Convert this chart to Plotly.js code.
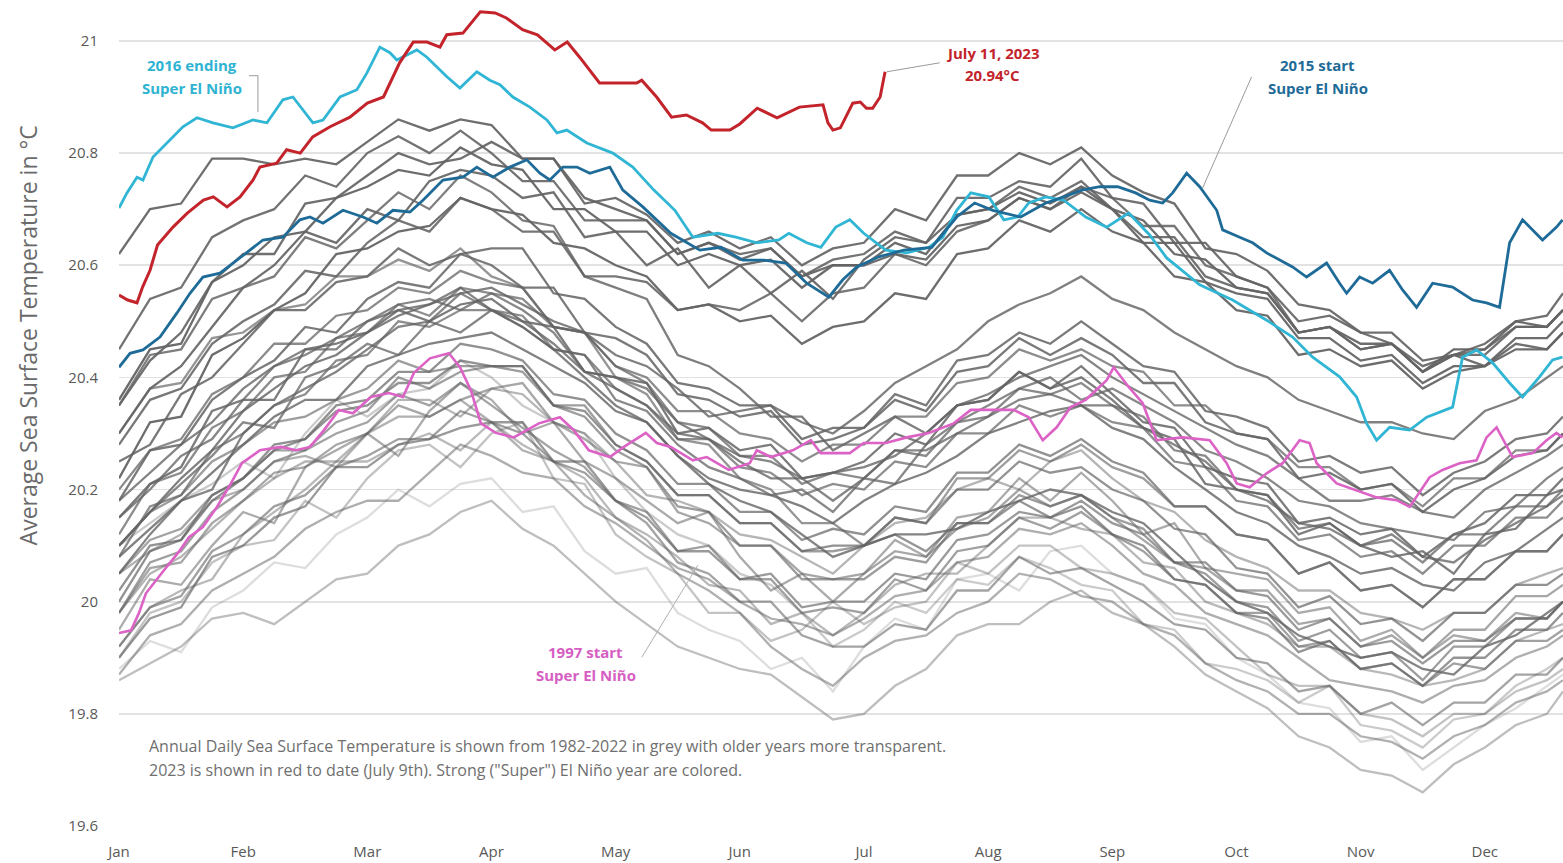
<!DOCTYPE html>
<html>
<head>
<meta charset="utf-8">
<script src="https://cdn.plot.ly/plotly-3.0.1.min.js"></script>
<style>html,body{margin:0;padding:0;background:#fff;}#chart{width:1563px;height:863px;}</style>
</head>
<body>
<div id="chart"></div>
<script>
// ---------- DATA ----------
const monthLabels = ['Jan','Feb','Mar','Apr','May','Jun','Jul','Aug','Sep','Oct','Nov','Dec'];
const monthTicks = [0,1,2,3,4,5,6,7,8,9,10,11];
const yTickVals = [19.6,19.8,20.0,20.2,20.4,20.6,20.8,21.0];
const yTickText = ['19.6','19.8','20','20.2','20.4','20.6','20.8','21'];

// x in months since Jan 1; grey years read about once a week
const greyX = [0,0.25,0.5,0.75, 1,1.25,1.5,1.75, 2,2.25,2.5,2.75, 3,3.25,3.5,3.75, 4,4.25,4.5,4.75, 5,5.25,5.5,5.75,
               6,6.25,6.5,6.75, 7,7.25,7.5,7.75, 8,8.25,8.5,8.75, 9,9.25,9.5,9.75, 10,10.25,10.5,10.75, 11,11.25,11.5,11.63];

const y1982 = [19.88,19.93,19.91,19.99, 20.02,20.07,20.06,20.12, 20.15,20.20,20.17,20.21, 20.22,20.16,20.17,20.09, 20.05,20.06,19.98,19.95, 19.93,19.88,19.90,19.84, 19.92,19.97,19.95,20.04, 20.05,20.02,20.09,20.10, 20.05,20.03,19.97,19.96, 19.90,19.87,19.82,19.81, 19.75,19.76,19.70,19.74, 19.78,19.81,19.85,19.87];
const y1983 = [20.10,20.14,20.18,20.21, 20.25,20.22,20.30,20.36, 20.33,20.37,20.38,20.43, 20.40,20.35,20.32,20.30, 20.22,20.16,20.12,20.10, 20.05,20.03,19.98,19.92, 19.95,20.00,19.98,20.04, 20.03,20.08,20.06,20.03, 20.02,19.96,19.95,19.89, 19.88,19.86,19.82,19.85, 19.78,19.77,19.74,19.79, 19.80,19.85,19.88,19.90];
const y1984 = [19.90,19.98,20.00,20.07, 20.10,20.11,20.18,20.15, 20.22,20.27,20.28,20.24, 20.30,20.32,20.22,20.21, 20.12,20.08,20.05,19.98, 19.98,19.93,19.95,20.00, 19.96,19.99,20.00,20.07, 20.05,20.10,20.10,20.06, 20.05,20.03,19.98,19.97, 19.92,19.87,19.85,19.85, 19.80,19.79,19.76,19.80, 19.80,19.84,19.86,19.88];
const y1985 = [19.86,19.89,19.92,19.97, 19.98,19.96,20.00,20.04, 20.05,20.10,20.12,20.16, 20.18,20.13,20.10,20.05, 20.00,19.96,19.92,19.90, 19.88,19.87,19.83,19.79, 19.80,19.85,19.88,19.94, 19.96,19.96,20.00,20.02, 19.98,19.96,19.92,19.87, 19.84,19.81,19.76,19.74, 19.70,19.69,19.66,19.71, 19.74,19.78,19.80,19.84];
const y1986 = [19.92,19.99,20.02,20.04, 20.12,20.16,20.20,20.25, 20.25,20.28,20.30,20.27, 20.32,20.28,20.25,20.22, 20.15,20.12,20.08,20.03, 20.02,19.96,19.98,19.94, 19.98,20.03,20.05,20.05, 20.10,20.15,20.15,20.13, 20.12,20.07,20.06,20.00, 19.98,19.96,19.92,19.92, 19.88,19.87,19.85,19.86, 19.88,19.93,19.95,19.96];
const y1987 = [19.98,20.05,20.08,20.13, 20.18,20.22,20.25,20.25, 20.30,20.36,20.36,20.33, 20.38,20.37,20.32,20.30, 20.25,20.19,20.18,20.16, 20.12,20.11,20.08,20.05, 20.10,20.14,20.15,20.20, 20.22,20.20,20.25,20.27, 20.22,20.18,20.16,20.11, 20.08,20.06,20.02,20.02, 19.98,19.97,19.95,19.98, 19.98,20.03,20.05,20.06];
const y1988 = [20.05,20.09,20.12,20.18, 20.20,20.25,20.26,20.24, 20.30,20.33,20.33,20.36, 20.32,20.27,20.25,20.19, 20.15,20.11,20.05,20.02, 19.98,19.92,19.88,19.85, 19.90,19.93,19.94,19.98, 20.00,20.05,20.04,20.01, 20.00,19.96,19.94,19.89, 19.86,19.84,19.80,19.80, 19.76,19.75,19.72,19.76, 19.78,19.82,19.84,19.86];
const y1989 = [19.87,19.94,19.96,20.02, 20.05,20.08,20.13,20.16, 20.18,20.18,20.23,20.28, 20.26,20.23,20.22,20.17, 20.14,20.10,20.06,20.04, 20.00,19.97,19.96,19.94, 19.97,20.01,20.02,20.07, 20.08,20.13,20.12,20.14, 20.10,20.05,20.03,19.98, 19.96,19.94,19.90,19.86, 19.85,19.84,19.82,19.85, 19.86,19.90,19.92,19.94];
const y1990 = [19.95,20.04,20.03,20.10, 20.16,20.14,20.24,20.27, 20.30,20.26,20.34,20.39, 20.36,20.30,20.32,20.25, 20.22,20.18,20.14,20.16, 20.08,20.02,20.05,20.00, 20.05,20.11,20.08,20.15, 20.16,20.22,20.18,20.23, 20.18,20.12,20.14,20.06, 20.05,20.04,19.98,19.99, 19.93,19.95,19.90,19.94, 19.93,19.98,19.97,20.00];
const y1991 = [19.98,20.06,20.07,20.14, 20.18,20.23,20.24,20.28, 20.30,20.35,20.33,20.36, 20.38,20.39,20.32,20.29, 20.25,20.24,20.16,20.14, 20.10,20.10,20.05,20.04, 20.05,20.09,20.08,20.13, 20.15,20.20,20.17,20.19, 20.15,20.11,20.07,20.06, 20.02,20.02,19.96,19.97, 19.92,19.94,19.90,19.95, 19.95,20.01,20.01,20.03];
const y1992 = [20.05,20.11,20.13,20.19, 20.22,20.27,20.27,20.30, 20.32,20.37,20.35,20.39, 20.35,20.31,20.27,20.24, 20.18,20.14,20.07,20.05, 20.00,20.00,19.94,19.92, 19.92,19.96,19.95,20.02, 20.02,20.08,20.05,20.06, 20.03,20.00,19.96,19.95, 19.90,19.89,19.84,19.85, 19.80,19.82,19.78,19.82, 19.82,19.87,19.87,19.90];
const y1993 = [19.92,19.99,20.01,20.09, 20.12,20.17,20.19,20.24, 20.26,20.29,20.29,20.34, 20.32,20.30,20.25,20.23, 20.18,20.16,20.09,20.10, 20.04,20.04,19.98,19.99, 19.98,20.04,20.02,20.09, 20.10,20.15,20.13,20.16, 20.12,20.09,20.04,20.03, 19.98,19.98,19.92,19.93, 19.88,19.89,19.85,19.89, 19.88,19.93,19.93,19.95];
const y1994 = [19.98,20.07,20.09,20.16, 20.20,20.25,20.27,20.32, 20.34,20.40,20.38,20.41, 20.42,20.42,20.35,20.35, 20.28,20.25,20.19,20.19, 20.14,20.14,20.09,20.09, 20.10,20.15,20.14,20.22, 20.22,20.27,20.25,20.28, 20.24,20.22,20.17,20.17, 20.12,20.11,20.05,20.07, 20.02,20.03,19.99,20.04, 20.04,20.09,20.09,20.12];
const y1995 = [20.10,20.16,20.19,20.25, 20.28,20.32,20.33,20.36, 20.38,20.43,20.41,20.42, 20.42,20.41,20.35,20.33, 20.27,20.24,20.17,20.16, 20.10,20.10,20.04,20.04, 20.04,20.08,20.07,20.14, 20.14,20.19,20.17,20.19, 20.15,20.13,20.07,20.05, 20.00,19.99,19.93,19.95, 19.90,19.91,19.86,19.92, 19.92,19.97,19.97,20.00];
const y1996 = [19.90,19.97,19.99,20.08, 20.10,20.15,20.17,20.24, 20.24,20.28,20.29,20.31, 20.32,20.32,20.25,20.25, 20.18,20.15,20.09,20.09, 20.04,20.05,19.99,20.00, 20.00,20.05,20.04,20.11, 20.12,20.16,20.15,20.18, 20.14,20.12,20.07,20.07, 20.02,20.01,19.95,19.97, 19.92,19.93,19.89,19.93, 19.93,19.97,19.97,20.00];
const y1998 = [20.30,20.38,20.39,20.47, 20.48,20.52,20.53,20.58, 20.58,20.61,20.59,20.63, 20.58,20.56,20.49,20.48, 20.40,20.37,20.29,20.28, 20.22,20.20,20.14,20.14, 20.10,20.12,20.09,20.14, 20.14,20.18,20.15,20.17, 20.12,20.10,20.04,20.03, 19.98,19.97,19.91,19.93, 19.88,19.89,19.85,19.90, 19.90,19.95,19.95,19.98];
const y1999 = [20.02,20.10,20.11,20.19, 20.22,20.27,20.29,20.34, 20.35,20.39,20.39,20.43, 20.42,20.42,20.35,20.34, 20.28,20.25,20.19,20.19, 20.14,20.14,20.09,20.10, 20.10,20.15,20.14,20.20, 20.20,20.25,20.23,20.24, 20.20,20.18,20.13,20.12, 20.06,20.05,19.99,20.01, 19.96,19.97,19.93,19.98, 19.98,20.03,20.03,20.05];
const y2000 = [20.00,20.09,20.11,20.18, 20.22,20.28,20.29,20.35, 20.36,20.41,20.41,20.46, 20.45,20.43,20.37,20.36, 20.30,20.27,20.21,20.21, 20.16,20.16,20.11,20.13, 20.12,20.17,20.16,20.23, 20.23,20.28,20.26,20.29, 20.25,20.23,20.17,20.17, 20.12,20.11,20.05,20.07, 20.02,20.03,19.99,20.04, 20.04,20.09,20.09,20.12];
const y2001 = [20.08,20.17,20.19,20.27, 20.30,20.35,20.37,20.43, 20.44,20.50,20.49,20.52, 20.52,20.51,20.45,20.44, 20.38,20.35,20.29,20.29, 20.24,20.23,20.19,20.21, 20.20,20.25,20.24,20.30, 20.30,20.35,20.33,20.35, 20.32,20.31,20.25,20.24, 20.18,20.17,20.11,20.12, 20.08,20.09,20.05,20.10, 20.10,20.15,20.15,20.18];
const y2002 = [20.12,20.21,20.23,20.31, 20.34,20.40,20.41,20.47, 20.48,20.53,20.51,20.56, 20.55,20.54,20.49,20.48, 20.42,20.40,20.34,20.34, 20.30,20.29,20.25,20.28, 20.28,20.33,20.33,20.39, 20.40,20.45,20.43,20.45, 20.42,20.41,20.35,20.35, 20.30,20.29,20.24,20.24, 20.20,20.21,20.17,20.22, 20.22,20.27,20.27,20.30];
const y2003 = [20.20,20.27,20.29,20.37, 20.40,20.46,20.46,20.51, 20.52,20.56,20.55,20.59, 20.57,20.56,20.49,20.48, 20.42,20.39,20.32,20.31, 20.26,20.26,20.21,20.23, 20.22,20.27,20.26,20.32, 20.33,20.38,20.37,20.39, 20.35,20.33,20.27,20.26, 20.20,20.19,20.13,20.14, 20.10,20.11,20.07,20.12, 20.12,20.17,20.17,20.20];
const y2004 = [20.10,20.16,20.21,20.26, 20.32,20.31,20.40,20.42, 20.46,20.44,20.50,20.55, 20.52,20.49,20.45,20.44, 20.36,20.34,20.28,20.24, 20.22,20.19,20.20,20.16, 20.22,20.21,20.28,20.32, 20.35,20.38,20.40,20.36, 20.38,20.35,20.32,20.27, 20.25,20.22,20.18,20.17, 20.14,20.13,20.12,20.11, 20.16,20.17,20.22,20.24];
const y2005 = [20.15,20.20,20.26,20.29, 20.36,20.42,20.44,20.47, 20.50,20.53,20.54,20.52, 20.55,20.52,20.48,20.41, 20.40,20.38,20.32,20.29, 20.26,20.25,20.22,20.18, 20.22,20.27,20.27,20.30, 20.33,20.36,20.37,20.35, 20.35,20.31,20.28,20.25, 20.20,20.18,20.14,20.13, 20.10,20.12,20.08,20.07, 20.11,20.14,20.17,20.19];
const y2006 = [20.05,20.12,20.18,20.20, 20.30,20.35,20.38,20.41, 20.45,20.49,20.50,20.48, 20.52,20.50,20.46,20.41, 20.38,20.35,20.30,20.29, 20.25,20.22,20.22,20.23, 20.24,20.26,20.30,20.35, 20.37,20.40,20.42,20.44, 20.40,20.37,20.34,20.31, 20.28,20.26,20.22,20.18, 20.18,20.19,20.16,20.15, 20.20,20.23,20.26,20.28];
const y2007 = [20.18,20.23,20.28,20.32, 20.38,20.42,20.45,20.45, 20.50,20.52,20.53,20.56, 20.52,20.49,20.45,20.40, 20.35,20.32,20.26,20.21, 20.18,20.16,20.12,20.08, 20.10,20.12,20.12,20.13, 20.16,20.18,20.20,20.19, 20.16,20.14,20.09,20.04, 20.00,19.98,19.94,19.92, 19.90,19.91,19.88,19.87, 19.92,19.94,19.98,20.00];
const y2008 = [20.08,20.13,20.18,20.23, 20.28,20.33,20.36,20.36, 20.42,20.44,20.46,20.47, 20.48,20.45,20.42,20.39, 20.34,20.32,20.26,20.22, 20.20,20.19,20.17,20.14, 20.18,20.21,20.23,20.26, 20.30,20.32,20.34,20.35, 20.31,20.29,20.24,20.20, 20.16,20.14,20.10,20.08, 20.05,20.06,20.03,20.02, 20.07,20.09,20.13,20.15];
const y2009 = [20.10,20.16,20.22,20.27, 20.34,20.38,20.42,20.44, 20.48,20.51,20.53,20.55, 20.56,20.53,20.50,20.48, 20.44,20.42,20.38,20.33, 20.34,20.35,20.32,20.30, 20.34,20.39,20.42,20.45, 20.50,20.53,20.55,20.58, 20.54,20.52,20.48,20.45, 20.42,20.40,20.36,20.34, 20.32,20.32,20.30,20.29, 20.34,20.36,20.40,20.42];
const y2010 = [20.35,20.44,20.45,20.54, 20.56,20.58,20.65,20.63, 20.68,20.73,20.70,20.76, 20.73,20.68,20.67,20.58, 20.56,20.54,20.44,20.42, 20.38,20.33,20.33,20.27, 20.30,20.33,20.30,20.35, 20.36,20.41,20.38,20.40, 20.36,20.31,20.29,20.21, 20.20,20.19,20.12,20.14, 20.10,20.08,20.09,20.05, 20.12,20.13,20.19,20.20];
const y2011 = [20.15,20.21,20.24,20.34, 20.36,20.36,20.45,20.46, 20.48,20.52,20.50,20.53, 20.54,20.50,20.49,20.41, 20.40,20.39,20.30,20.31, 20.27,20.28,20.22,20.23, 20.25,20.30,20.28,20.35, 20.36,20.41,20.38,20.42, 20.37,20.32,20.31,20.24, 20.22,20.21,20.14,20.15, 20.12,20.13,20.08,20.12, 20.14,20.19,20.19,20.22];
const y2012 = [20.18,20.27,20.28,20.36, 20.40,20.43,20.49,20.48, 20.54,20.57,20.56,20.62, 20.60,20.56,20.56,20.48, 20.47,20.44,20.37,20.36, 20.33,20.34,20.28,20.29, 20.31,20.37,20.35,20.43, 20.44,20.48,20.46,20.50, 20.46,20.42,20.41,20.34, 20.33,20.31,20.25,20.26, 20.23,20.24,20.19,20.23, 20.25,20.29,20.30,20.33];
const y2013 = [20.25,20.28,20.37,20.40, 20.46,20.52,20.52,20.57, 20.58,20.63,20.60,20.62, 20.63,20.63,20.55,20.54, 20.49,20.46,20.39,20.38, 20.35,20.35,20.29,20.31, 20.31,20.36,20.34,20.41, 20.42,20.47,20.44,20.47, 20.44,20.39,20.39,20.32, 20.30,20.29,20.22,20.23, 20.20,20.21,20.16,20.20, 20.22,20.26,20.27,20.30];
const y2014 = [20.28,20.36,20.38,20.46, 20.50,20.53,20.59,20.58, 20.64,20.68,20.66,20.72, 20.70,20.66,20.66,20.58, 20.58,20.57,20.52,20.53, 20.52,20.55,20.50,20.55, 20.56,20.62,20.60,20.66, 20.68,20.72,20.70,20.74, 20.72,20.67,20.67,20.60, 20.58,20.56,20.48,20.49, 20.45,20.46,20.41,20.44, 20.45,20.49,20.49,20.52];
const y2017 = [20.45,20.54,20.56,20.65, 20.68,20.70,20.76,20.74, 20.80,20.83,20.80,20.84, 20.80,20.75,20.75,20.68, 20.68,20.68,20.62,20.64, 20.62,20.63,20.58,20.61, 20.62,20.66,20.64,20.69, 20.70,20.74,20.72,20.75, 20.70,20.65,20.65,20.58, 20.56,20.55,20.48,20.49, 20.45,20.46,20.41,20.44, 20.44,20.49,20.49,20.52];
const y2018 = [20.30,20.38,20.42,20.49, 20.56,20.60,20.66,20.64, 20.70,20.68,20.75,20.77, 20.76,20.72,20.73,20.65, 20.66,20.60,20.63,20.56, 20.60,20.55,20.59,20.54, 20.61,20.65,20.64,20.72, 20.72,20.75,20.74,20.79, 20.72,20.71,20.64,20.64, 20.58,20.56,20.50,20.51, 20.48,20.46,20.42,20.44, 20.46,20.50,20.51,20.55];
const y2019 = [20.35,20.43,20.48,20.57, 20.62,20.62,20.71,20.72, 20.76,20.80,20.78,20.79, 20.82,20.79,20.79,20.71, 20.72,20.69,20.64,20.66, 20.63,20.65,20.60,20.63, 20.64,20.70,20.68,20.76, 20.76,20.80,20.78,20.81, 20.76,20.73,20.71,20.63, 20.62,20.59,20.53,20.52, 20.48,20.48,20.43,20.44, 20.42,20.46,20.45,20.48];
const y2020 = [20.62,20.70,20.71,20.79, 20.79,20.78,20.79,20.78, 20.82,20.86,20.84,20.86, 20.85,20.79,20.79,20.72, 20.70,20.68,20.62,20.64, 20.61,20.63,20.58,20.60, 20.60,20.62,20.61,20.67, 20.68,20.72,20.70,20.73, 20.70,20.64,20.64,20.57, 20.55,20.54,20.47,20.47, 20.43,20.44,20.39,20.42, 20.42,20.45,20.45,20.48];
const y2021 = [20.22,20.32,20.33,20.44, 20.47,20.52,20.55,20.62, 20.63,20.66,20.67,20.72, 20.70,20.69,20.64,20.63, 20.60,20.58,20.52,20.53, 20.50,20.51,20.46,20.49, 20.50,20.55,20.54,20.62, 20.63,20.68,20.66,20.70, 20.66,20.64,20.58,20.57, 20.52,20.51,20.44,20.45, 20.42,20.43,20.38,20.41, 20.42,20.47,20.47,20.50];
const y2022 = [20.36,20.45,20.46,20.57, 20.60,20.65,20.66,20.72, 20.74,20.77,20.76,20.81, 20.78,20.77,20.70,20.70, 20.66,20.66,20.60,20.62, 20.60,20.61,20.56,20.60, 20.60,20.64,20.62,20.69, 20.70,20.73,20.71,20.74, 20.70,20.68,20.62,20.61, 20.56,20.55,20.48,20.49, 20.46,20.46,20.41,20.45, 20.45,20.50,20.49,20.52];

const greyYears = [1982,1983,1984,1985,1986,1987,1988,1989,1990,1991,1992,1993,1994,1995,1996,1998,1999,2000,2001,2002,2003,2004,2005,2006,2007,2008,2009,2010,2011,2012,2013,2014,2017,2018,2019,2020,2021,2022];
const greySeries = [y1982,y1983,y1984,y1985,y1986,y1987,y1988,y1989,y1990,y1991,y1992,y1993,y1994,y1995,y1996,y1998,y1999,y2000,y2001,y2002,y2003,y2004,y2005,y2006,y2007,y2008,y2009,y2010,y2011,y2012,y2013,y2014,y2017,y2018,y2019,y2020,y2021,y2022];

// 1997 (start of Super El Niño)
const x1997 = [0,0.097,0.161,0.217,0.362,0.475,0.564,0.676,0.789,0.902,0.990,1.135,1.304,1.425,1.538,1.651,1.771,1.884,2.029,2.174,2.287,2.375,2.504,2.657,2.746,2.834,2.915,3.035,3.180,3.382,3.551,3.663,3.784,3.953,4.066,4.243,4.332,4.444,4.622,4.734,4.911,5.080,5.137,5.250,5.427,5.572,5.652,5.886,5.998,6.176,6.345,6.522,6.723,6.860,7.037,7.206,7.327,7.440,7.552,7.665,7.786,7.955,8.011,8.132,8.245,8.357,8.567,8.784,8.921,9.002,9.106,9.243,9.372,9.509,9.589,9.646,9.807,9.968,10.129,10.290,10.395,10.556,10.660,10.797,10.934,11.014,11.095,11.224,11.385,11.498,11.578,11.626];
const y1997 = [19.944,19.949,19.980,20.015,20.056,20.087,20.115,20.133,20.169,20.211,20.247,20.270,20.276,20.270,20.276,20.306,20.342,20.336,20.365,20.372,20.365,20.408,20.434,20.443,20.418,20.377,20.318,20.301,20.293,20.318,20.329,20.306,20.270,20.258,20.276,20.301,20.283,20.276,20.252,20.258,20.235,20.247,20.270,20.258,20.270,20.288,20.265,20.265,20.283,20.283,20.293,20.301,20.318,20.342,20.342,20.342,20.329,20.288,20.311,20.347,20.360,20.395,20.418,20.383,20.354,20.288,20.293,20.288,20.247,20.211,20.204,20.229,20.247,20.288,20.283,20.247,20.211,20.199,20.186,20.181,20.169,20.222,20.235,20.247,20.252,20.293,20.311,20.258,20.265,20.288,20.301,20.293];

// 2015 (start of Super El Niño)
const x2015 = [0,0.089,0.193,0.330,0.467,0.572,0.676,0.813,0.950,1.055,1.159,1.320,1.457,1.538,1.643,1.804,1.965,2.077,2.206,2.343,2.448,2.609,2.770,2.882,3.011,3.148,3.285,3.390,3.470,3.575,3.688,3.792,3.953,4.058,4.219,4.444,4.678,4.847,5.024,5.193,5.370,5.539,5.717,5.829,5.942,6.119,6.320,6.546,6.659,6.747,6.892,7.037,7.262,7.464,7.609,7.754,7.899,8.043,8.188,8.301,8.406,8.486,8.599,8.704,8.841,8.889,9.026,9.130,9.243,9.348,9.452,9.565,9.726,9.831,9.887,9.992,10.097,10.233,10.338,10.451,10.580,10.741,10.902,11.014,11.119,11.200,11.304,11.465,11.578,11.626];
const y2015 = [20.418,20.443,20.449,20.472,20.515,20.550,20.579,20.586,20.609,20.627,20.645,20.650,20.681,20.686,20.675,20.698,20.686,20.675,20.698,20.695,20.716,20.752,20.757,20.775,20.757,20.775,20.788,20.764,20.752,20.775,20.775,20.764,20.775,20.734,20.704,20.657,20.627,20.632,20.609,20.609,20.604,20.568,20.543,20.574,20.597,20.615,20.627,20.632,20.663,20.686,20.711,20.698,20.686,20.711,20.722,20.734,20.740,20.740,20.729,20.716,20.711,20.729,20.764,20.740,20.698,20.663,20.650,20.640,20.622,20.609,20.597,20.579,20.604,20.568,20.550,20.579,20.568,20.591,20.556,20.525,20.568,20.561,20.538,20.533,20.525,20.640,20.681,20.645,20.668,20.681];

// 2016 (end of Super El Niño)
const x2016 = [0,0.064,0.145,0.193,0.274,0.354,0.411,0.515,0.628,0.757,0.918,1.079,1.192,1.320,1.401,1.562,1.643,1.780,1.916,1.997,2.101,2.182,2.238,2.399,2.480,2.641,2.746,2.882,2.987,3.068,3.172,3.309,3.446,3.527,3.607,3.768,3.977,4.138,4.308,4.477,4.622,4.823,4.968,5.137,5.314,5.395,5.539,5.652,5.773,5.886,5.998,6.176,6.345,6.522,6.634,6.747,6.860,7.005,7.126,7.238,7.327,7.464,7.609,7.786,7.955,8.132,8.301,8.438,8.704,8.969,9.243,9.452,9.614,9.831,9.968,10.048,10.129,10.234,10.395,10.532,10.741,10.821,10.934,11.063,11.200,11.304,11.441,11.546,11.626];
const y2016 = [20.702,20.729,20.757,20.752,20.793,20.811,20.823,20.847,20.863,20.854,20.845,20.859,20.854,20.895,20.900,20.854,20.859,20.900,20.913,20.943,20.989,20.979,20.966,20.984,20.971,20.936,20.916,20.945,20.930,20.922,20.900,20.882,20.859,20.836,20.841,20.818,20.800,20.775,20.734,20.698,20.650,20.657,20.650,20.640,20.645,20.657,20.640,20.632,20.668,20.681,20.657,20.627,20.622,20.632,20.650,20.698,20.729,20.722,20.681,20.686,20.711,20.722,20.716,20.686,20.668,20.693,20.654,20.613,20.565,20.538,20.502,20.472,20.436,20.401,20.365,20.318,20.288,20.311,20.306,20.329,20.347,20.436,20.449,20.426,20.390,20.365,20.401,20.431,20.436];

// 2023 to date
const x2023 = [0,0.07,0.145,0.19,0.25,0.31,0.435,0.55,0.68,0.76,0.87,0.975,1.08,1.135,1.27,1.35,1.46,1.56,1.70,1.86,2.00,2.13,2.26,2.37,2.48,2.585,2.64,2.77,2.91,3.03,3.12,3.25,3.37,3.51,3.61,3.71,3.87,4.17,4.21,4.33,4.45,4.57,4.70,4.77,4.92,5.00,5.14,5.30,5.48,5.67,5.71,5.75,5.81,5.91,5.97,6.02,6.07,6.13,6.17];
const y2023 = [20.547,20.538,20.533,20.561,20.591,20.636,20.668,20.693,20.716,20.722,20.704,20.722,20.752,20.775,20.782,20.806,20.800,20.829,20.847,20.864,20.889,20.900,20.961,20.998,20.998,20.989,21.011,21.014,21.052,21.050,21.041,21.020,21.011,20.984,20.998,20.971,20.925,20.925,20.930,20.900,20.864,20.868,20.854,20.841,20.841,20.852,20.880,20.863,20.882,20.886,20.854,20.841,20.845,20.889,20.891,20.880,20.880,20.900,20.945];

// ---------- CHART ----------
const FONT = 'Open Sans, "Noto Sans", sans-serif';
const traces = [];
greySeries.forEach((ys, i) => {
  const t = (greyYears[i] - 1982) / 40;
  const a = 0.22 + 0.73 * Math.sqrt(t);
  traces.push({x: greyX, y: ys, type: 'scatter', mode: 'lines', name: String(greyYears[i]),
    line: {color: 'rgba(100,100,100,' + a.toFixed(3) + ')', width: 2.3}, hoverinfo: 'skip'});
});
traces.push({x: x1997, y: y1997, type: 'scatter', mode: 'lines', name: '1997', line: {color: '#dc62c6', width: 2.6}});
traces.push({x: x2016, y: y2016, type: 'scatter', mode: 'lines', name: '2016', line: {color: '#30b6d4', width: 2.8}});
traces.push({x: x2015, y: y2015, type: 'scatter', mode: 'lines', name: '2015', line: {color: '#1f6b98', width: 2.8}});
traces.push({x: x2023, y: y2023, type: 'scatter', mode: 'lines', name: '2023', line: {color: '#c3242c', width: 3}});

function lbl(x, y, text, color) {
  return {x: x, y: y, xref: 'x', yref: 'y', text: '<b>' + text + '</b>', showarrow: false,
    font: {family: FONT, size: 15, color: color}, xanchor: 'center', yanchor: 'middle'};
}
const annotations = [
  lbl(0.588, 20.957, '2016 ending', '#2fb3d2'),
  lbl(0.588, 20.916, 'Super El Niño', '#2fb3d2'),
  lbl(7.037, 20.979, 'July 11, 2023', '#c3242c'),
  lbl(7.037, 20.939, '20.94°C', '#c3242c'),
  lbl(9.654, 20.957, '2015 start', '#1f6b98'),
  lbl(9.654, 20.916, 'Super El Niño', '#1f6b98'),
  lbl(3.760, 19.910, '1997 start', '#d65ec2'),
  lbl(3.760, 19.869, 'Super El Niño', '#d65ec2'),
  {xref: 'paper', yref: 'paper', x: 0.0194, y: 0.097, xanchor: 'left', yanchor: 'middle', showarrow: false,
   text: 'Annual Daily Sea Surface Temperature is shown from 1982-2022 in grey with older years more transparent.',
   font: {family: FONT, size: 16, color: '#6f6f6f'}},
  {xref: 'paper', yref: 'paper', x: 0.0194, y: 0.068, xanchor: 'left', yanchor: 'middle', showarrow: false,
   text: '2023 is shown in red to date (July 9th). Strong ("Super") El Niño year are colored.',
   font: {family: FONT, size: 16, color: '#6f6f6f'}},
  {xref: 'paper', yref: 'paper', x: -0.063, y: 0.594, xanchor: 'center', yanchor: 'middle', showarrow: false,
   textangle: -90, text: 'Average Sea Surface Temperature in °C', font: {family: FONT, size: 23, color: '#6a6a6a'}}
];

const shapes = [
  {type: 'path', xref: 'x', yref: 'y', path: 'M 1.047 20.938 L 1.119 20.938 L 1.119 20.873', line: {color: '#9a9a9a', width: 1}},
  {type: 'line', xref: 'x', yref: 'y', x0: 6.184, y0: 20.945, x1: 6.610, y1: 20.961, line: {color: '#9a9a9a', width: 1}},
  {type: 'line', xref: 'x', yref: 'y', x0: 9.122, y0: 20.936, x1: 8.728, y1: 20.738, line: {color: '#9a9a9a', width: 1}},
  {type: 'line', xref: 'x', yref: 'y', x0: 4.211, y0: 19.901, x1: 4.662, y1: 20.065, line: {color: '#b0b0b0', width: 1}}
];

const layout = {
  width: 1563, height: 863,
  margin: {l: 119, r: 0, t: 0, b: 37},
  paper_bgcolor: '#ffffff', plot_bgcolor: '#ffffff',
  showlegend: false, hovermode: false,
  font: {family: FONT, color: '#595959'},
  xaxis: {range: [0, 11.63], tickvals: monthTicks, ticktext: monthLabels, showgrid: false, zeroline: false,
    showline: false, ticks: '', tickfont: {family: FONT, size: 15, color: '#595959'}, ticklabelstandoff: 15, fixedrange: true},
  yaxis: {range: [19.6, 21.073], tickvals: yTickVals, ticktext: yTickText, showgrid: true, gridcolor: '#e2e2e2', gridwidth: 1.6,
    zeroline: false, showline: false, ticks: '', tickfont: {family: FONT, size: 15, color: '#595959'}, ticklabelstandoff: 20, fixedrange: true},
  annotations: annotations,
  shapes: shapes
};
Plotly.newPlot('chart', traces, layout, {staticPlot: true, displayModeBar: false});
</script>
</body>
</html>
